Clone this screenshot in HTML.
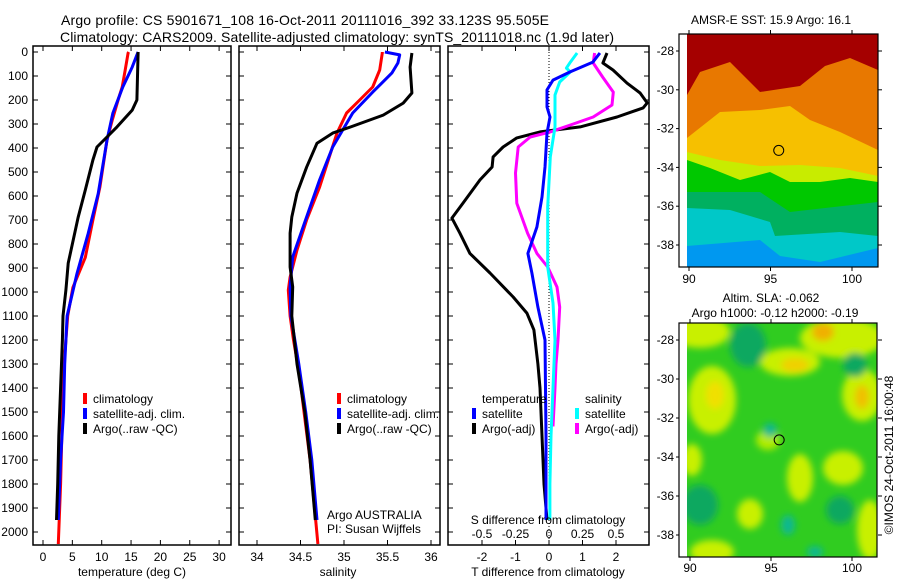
<!DOCTYPE html>
<html><head><meta charset="utf-8"><style>
html,body{margin:0;padding:0;background:#fff;}
svg{display:block;font-family:"Liberation Sans",sans-serif;}
</style></head><body>
<svg id="fig" width="900" height="580" viewBox="0 0 900 580">
<defs>
<clipPath id="c1"><rect x="33" y="46" width="198" height="499"/></clipPath>
<clipPath id="c2"><rect x="239" y="46" width="201" height="499"/></clipPath>
<clipPath id="c3"><rect x="448" y="46" width="201" height="499"/></clipPath>
<clipPath id="cm1"><rect x="687" y="34" width="191" height="233"/></clipPath>
<clipPath id="cm2"><rect x="687" y="323" width="190" height="234"/></clipPath>
<filter id="bl" x="-20%" y="-20%" width="140%" height="140%"><feGaussianBlur stdDeviation="3.5"/></filter>
</defs>
<g id="root"></g>
</svg>
<script>
// ---- depth axis / data ----
const depthTicks=[0,100,200,300,400,500,600,700,800,900,1000,1100,1200,1300,1400,1500,1600,1700,1800,1900,2000];
// Panel 1 temperature
const tempClimDepth=[0,4,75,146,200,283,367,563,700,856,981,1100,1300,1500,1700,1800,2050];
const tempClim=[14.6,14.5,14.0,13.5,12.8,11.8,10.9,9.7,8.5,7.2,5.1,4.2,3.6,3.3,3.1,3.0,2.6];
const tempSatDepth=[0,12,63,146,254,367,590,756,923,1100,1300,1400,1500,1700,1950];
const tempSat=[16.2,16.0,15.2,13.6,11.9,10.9,9.4,7.7,5.8,4.1,3.7,3.6,3.5,3.0,2.6];
const tempArgoDepth=[0,4,200,242,312,354,396,450,575,688,880,992,1100,1200,1400,1600,1800,1950];
const tempArgo=[16.2,16.2,16.0,15.2,12.6,10.9,9.2,8.5,7.2,6.0,4.3,3.9,3.4,3.3,3.0,2.7,2.5,2.3];
const tempTicks=[0,5,10,15,20,25,30];
// Panel 2 salinity
const salClimDepth=[0,4,75,146,200,254,338,450,563,700,825,938,992,1100,1200,1350,1500,1700,2050];
const salClim=[35.44,35.44,35.41,35.33,35.18,35.03,34.92,34.82,34.72,34.57,34.46,34.38,34.36,34.38,34.42,34.49,34.54,34.61,34.70];
const salSatDepth=[0,12,46,88,167,254,396,533,729,854,979,1100,1300,1500,1700,1950];
const salSat=[35.47,35.64,35.62,35.55,35.33,35.10,34.87,34.72,34.53,34.41,34.38,34.39,34.48,34.56,34.63,34.69];
const salArgoDepth=[4,63,171,213,263,313,338,380,480,588,688,755,896,979,1100,1300,1500,1700,1950];
const salArgo=[35.78,35.76,35.78,35.68,35.45,35.07,34.87,34.69,34.57,34.46,34.40,34.38,34.38,34.41,34.40,34.46,34.55,34.61,34.67];
const salTicks=[34,34.5,35,35.5,36];
const salTickLabels=["34","34.5","35","35.5","36"];
// Panel 3 differences
const dTSatDepth=[4,42,83,117,158,229,271,338,479,604,729,839,921,1063,1200,1600,1950];
const dTSat=[1.52,1.31,0.63,0.12,-0.06,-0.06,0.03,-0.06,-0.12,-0.21,-0.36,-0.63,-0.51,-0.33,-0.12,-0.09,-0.09];
const dTArgoDepth=[4,46,75,130,171,212,233,271,312,333,358,396,437,479,533,630,692,755,839,921,1021,1088,1158,1300,1400,1600,1800,1950];
const dTArgo=[1.73,1.61,1.91,2.33,2.72,2.93,2.81,2.03,0.93,-0.27,-0.96,-1.37,-1.67,-1.70,-2.06,-2.57,-2.90,-2.66,-2.36,-1.76,-1.07,-0.66,-0.45,-0.33,-0.27,-0.21,-0.15,-0.06];
const dSSatDepth=[4,42,67,83,125,179,312,437,646,896,1046,1200,1400,1600,1800,1950];
const dSSat=[0.21,0.16,0.13,0.16,0.08,0.045,0.045,0.01,-0.01,-0.01,0.03,0.045,0.03,0.015,0.007,0.007];
const dSArgoDepth=[4,46,104,167,221,271,304,333,354,396,504,630,755,839,896,979,1063,1200,1300,1400,1560];
const dSArgo=[0.34,0.33,0.40,0.48,0.47,0.33,0.16,0.01,-0.14,-0.23,-0.25,-0.24,-0.16,-0.09,-0.01,0.06,0.08,0.067,0.052,0.045,0.03];
const dTTicks=[-2,-1,0,1,2];
const dSTicks=[-0.5,-0.25,0,0.25,0.5];
const dSTickLabels=["-0.5","-0.25","0","0.25","0.5"];
// Maps
const lonTicks=[90,95,100];
const latTicks=[-28,-30,-32,-34,-36,-38];
const argoLon=95.505, argoLat=-33.123;

// ---- scales ----
const yD=d=>52+d*0.24;
const xT=t=>43+t*5.87;
const xS=s=>257+(s-34)*87;
const xdT=v=>549+v*33.5;
const xdS=v=>549+v*134;
const m1x=lon=>689+(lon-90)*16.3, m1y=lat=>51+(-28-lat)*19.4;
const m2x=lon=>690+(lon-90)*16.2, m2y=lat=>340+(-28-lat)*19.5;

const NS="http://www.w3.org/2000/svg";
const root=document.getElementById('root');
function el(tag,attrs,parent){const e=document.createElementNS(NS,tag);for(const k in attrs)e.setAttribute(k,attrs[k]);(parent||root).appendChild(e);return e;}
function txt(x,y,s,anchor,size,parent){const t=el('text',{x:x,y:y,'font-size':size||12,'text-anchor':anchor||'start',fill:'#000'},parent);t.textContent=s;return t;}

// titles
let t=txt(61,25,"Argo profile: CS 5901671_108 16-Oct-2011 20111016_392 33.123S 95.505E","start",14);
t.setAttribute('textLength','488');


t=txt(60,42,"Climatology: CARS2009. Satellite-adjusted climatology: synTS_20111018.nc (1.9d later)","start",14);
t.setAttribute('textLength','554');



function frame(x0,x1,name){
  const r=el('rect',{x:x0,y:46,width:x1-x0,height:499,fill:'none',stroke:'#000','stroke-width':1.5});
  
  
  depthTicks.forEach(d=>{
    el('line',{x1:x0,x2:x0+5,y1:yD(d),y2:yD(d),stroke:'#000'});
    el('line',{x1:x1-5,x2:x1,y1:yD(d),y2:yD(d),stroke:'#000'});
  });
}
function series(xs,ds,fx,color,clip,name){
  const pts=ds.map((d,i)=>fx(xs[i]).toFixed(1)+','+yD(d).toFixed(1)).join(' ');
  const p=el('polyline',{points:pts,fill:'none',stroke:color,'stroke-width':3,'stroke-linejoin':'round','clip-path':'url(#'+clip+')'});
  
  
}
function xticks(vals,fx,labels,ylab){
  vals.forEach((v,i)=>{const x=fx(v);
    el('line',{x1:x,x2:x,y1:46,y2:51,stroke:'#000'});
    el('line',{x1:x,x2:x,y1:540,y2:545,stroke:'#000'});
    const l=txt(x,ylab,labels?labels[i]:String(v),'middle',12);
    
    
  });
}

// Panel 1
frame(33,231,'temperature-panel');
depthTicks.forEach(d=>{const l=txt(28,yD(d)+4,String(d),'end',12);
  
  });
xticks(tempTicks,xT,null,561);
t=txt(132,576,"temperature (deg C)","middle",12);


series(tempClim,tempClimDepth,xT,'#ff0000','c1','temp-climatology-line');
series(tempSat,tempSatDepth,xT,'#0000ff','c1','temp-satellite-line');
series(tempArgo,tempArgoDepth,xT,'#000000','c1','temp-argo-line');

function legend(x,y,items,name){
  const g=el('g',{});
  
  
  items.forEach((it,i)=>{
    if(it[0]) el('rect',{x:x,y:y+i*15-10,width:4,height:11,fill:it[0]},g);
    txt(x+10,y+i*15,it[1],'start',12,g);
  });
}
legend(83,403,[['#ff0000','climatology'],['#0000ff','satellite-adj. clim.'],['#000','Argo(..raw -QC)']],'temperature-legend');

// Panel 2
frame(239,440,'salinity-panel');
xticks(salTicks,xS,salTickLabels,561);
t=txt(338,576,"salinity","middle",12);


series(salClim,salClimDepth,xS,'#ff0000','c2','sal-climatology-line');
series(salSat,salSatDepth,xS,'#0000ff','c2','sal-satellite-line');
series(salArgo,salArgoDepth,xS,'#000000','c2','sal-argo-line');
legend(337,403,[['#ff0000','climatology'],['#0000ff','satellite-adj. clim.'],['#000','Argo(..raw -QC)']],'salinity-legend');
t=txt(327,519,"Argo AUSTRALIA","start",12);


t=txt(327,533,"PI: Susan Wijffels","start",12);



// Panel 3
frame(448,649,'difference-panel');
el('line',{x1:549,x2:549,y1:46,y2:545,stroke:'#000','stroke-dasharray':'1,2'});
xticks(dTTicks,xdT,null,561);
dSTicks.forEach((v,i)=>{const x=xdS(v);
  el('line',{x1:x,x2:x,y1:540,y2:545,stroke:'#000'});
  const l=txt(x,538,dSTickLabels[i],'middle',12);
  
  });
series(dTArgo,dTArgoDepth,xdT,'#000000','c3','tdiff-argo-line');
series(dSArgo,dSArgoDepth,xdS,'#ff00ff','c3','sdiff-argo-line');
series(dSSat,dSSatDepth,xdS,'#00ffff','c3','sdiff-satellite-line');
series(dTSat,dTSatDepth,xdT,'#0000ff','c3','tdiff-satellite-line');
t=txt(548,524,"S difference from climatology","middle",12);


t=txt(548,576,"T difference from climatology","middle",12);


legend(472,403,[[null,'temperature'],['#0000ff','satellite'],['#000','Argo(-adj)']],'tdiff-legend');
legend(575,403,[[null,'salinity'],['#00ffff','satellite'],['#ff00ff','Argo(-adj)']],'sdiff-legend');

// Map 1 (SST)
const m1=el('g',{'clip-path':'url(#cm1)'});


el('rect',{x:687,y:34,width:191,height:233,fill:'#a50000'},m1);
const bands=[
 ['#e87800',[[687,95],[700,72],[730,62],[760,92],[800,86],[825,66],[850,58],[878,70]]],
 ['#f6c000',[[687,138],[720,112],[760,110],[790,106],[810,120],[840,132],[878,150]]],
 ['#c8ec00',[[687,152],[720,160],[760,166],[800,165],[840,168],[878,176]]],
 ['#00c800',[[687,160],[710,168],[740,180],[770,172],[790,182],[820,182],[850,178],[878,182]]],
 ['#00b060',[[687,192],[760,192],[790,212],[878,202]]],
 ['#00c8c8',[[687,208],[730,210],[770,222],[775,236],[840,232],[878,236]]],
 ['#0098f0',[[687,246],[760,240],[780,256],[820,262],[878,248]]]
];
bands.forEach(b=>{const pts=b[1].map(p=>p.join(',')).join(' ')+' 878,270 687,270';
  el('polygon',{points:pts,fill:b[0]},m1);});
el('rect',{x:679,y:34,width:199,height:233,fill:'none',stroke:'#000','stroke-width':1.2});
el('circle',{cx:m1x(argoLon),cy:m1y(argoLat),r:5,fill:'none',stroke:'#000'});
t=txt(771,24,"AMSR-E SST: 15.9 Argo: 16.1","middle",12);



// Map 2 (SLA)
const m2=el('g',{'clip-path':'url(#cm2)'});


el('rect',{x:687,y:323,width:190,height:234,fill:'#30cc20'},m2);
const bg=el('g',{filter:'url(#bl)'},m2);
[['#c8f000',700,332,30,16],['#c8f000',712,400,24,34],['#f0e000',715,395,9,14],['#c8f000',790,362,30,14],['#f0d000',795,365,14,7],
 ['#c8f000',842,338,42,20],['#f0b000',823,332,11,9],['#c8f000',862,395,20,26],['#f0c000',862,397,7,12],
 ['#c8f000',800,478,13,24],['#c8f000',843,468,20,17],['#c8f000',750,514,13,15],['#c8f000',712,552,22,12],
 ['#c8f000',870,530,13,30],['#c8f000',692,460,10,16],['#b0ec00',768,440,12,10],
 ['#10a860',748,345,18,22],['#10a860',700,505,18,20],['#10a860',840,510,14,14],['#10a860',855,365,12,12],
 ['#10b890',770,430,7,7],['#10b890',788,525,7,10],['#10b890',815,552,8,6]].forEach(b=>{
  el('ellipse',{cx:b[1],cy:b[2],rx:b[3],ry:b[4],fill:b[0]},bg);});
el('rect',{x:679,y:323,width:198,height:234,fill:'none',stroke:'#000','stroke-width':1.2});
el('circle',{cx:m2x(argoLon),cy:m2y(argoLat),r:5,fill:'none',stroke:'#000'});
t=txt(771,302,"Altim. SLA: -0.062","middle",12);


t=txt(775,317,"Argo h1000: -0.12 h2000: -0.19","middle",12);



// map axes
function mapAxes(fx,fy,yTop,yBot,labY){
  lonTicks.forEach(lon=>{const x=fx(lon);
    el('line',{x1:x,x2:x,y1:yTop-4,y2:yTop,stroke:'#000'});
    el('line',{x1:x,x2:x,y1:yBot,y2:yBot+4,stroke:'#000'});
    const l=txt(x,labY,String(lon),'middle',12);
    
    });
  latTicks.forEach(lat=>{const y=fy(lat);
    el('line',{x1:878,x2:882,y1:y,y2:y,stroke:'#000'});
    el('line',{x1:676,x2:679,y1:y,y2:y,stroke:'#000'});
    const l=txt(674,y+4,String(lat),'end',12);
    
    });
}
mapAxes(m1x,m1y,34,267,283);
mapAxes(m2x,m2y,323,557,572);

t=txt(0,0,"©IMOS 24-Oct-2011 16:00:48","middle",12);
t.setAttribute('transform','translate(893,455) rotate(-90)');


</script>
</body></html>
